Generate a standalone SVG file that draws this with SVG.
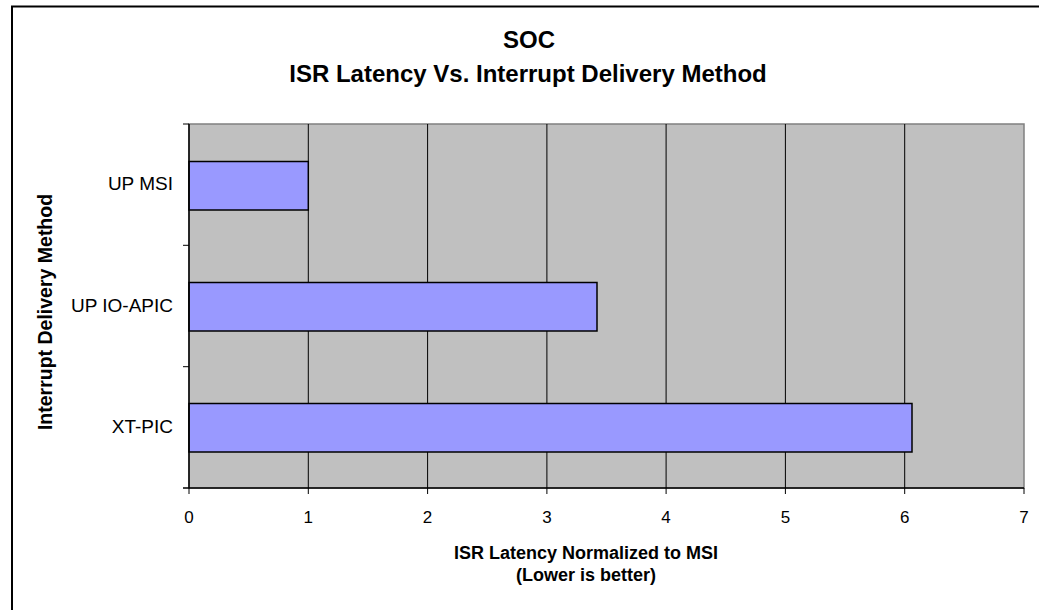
<svg xmlns="http://www.w3.org/2000/svg" width="1039" height="610" viewBox="0 0 1039 610">
<style>
text{font-family:"Liberation Sans",Arial,sans-serif;fill:#000}
.title{font-size:24px;font-weight:bold;text-anchor:middle}
.axt{font-size:18px;font-weight:bold;text-anchor:middle}
.yt{font-size:19.5px;font-weight:bold;text-anchor:middle}
.cat{font-size:19px;text-anchor:end}
.tick{font-size:17px;text-anchor:middle}
.grid{stroke:#000;stroke-width:1}
.bar{fill:#9999FF;stroke:#000;stroke-width:1.5}
.tk{stroke:#000;stroke-width:1}
</style>
<rect x="0" y="0" width="1039" height="610" fill="#fff"/>
<rect x="12" y="6.5" width="1040" height="620" fill="#fff" stroke="#000" stroke-width="2"/>
<g id="title">
<text class="title" x="529" y="48">SOC</text>
<text class="title" x="528" y="82">ISR Latency Vs. Interrupt Delivery Method</text>
</g>
<g id="plot">
<rect x="189" y="124" width="835" height="364" fill="#C0C0C0" stroke="#808080" stroke-width="1.5"/>
<line class="grid" x1="308.3" y1="124" x2="308.3" y2="488"/>
<line class="grid" x1="427.6" y1="124" x2="427.6" y2="488"/>
<line class="grid" x1="546.9" y1="124" x2="546.9" y2="488"/>
<line class="grid" x1="666.1" y1="124" x2="666.1" y2="488"/>
<line class="grid" x1="785.4" y1="124" x2="785.4" y2="488"/>
<line class="grid" x1="904.7" y1="124" x2="904.7" y2="488"/>
</g>
<g id="bar-up-msi"><rect class="bar" x="189" y="161.5" width="119.3" height="48.5"/></g>
<g id="bar-up-io-apic"><rect class="bar" x="189" y="282.5" width="408" height="48.5"/></g>
<g id="bar-xt-pic"><rect class="bar" x="189" y="403.5" width="723" height="48.5"/></g>
<g id="axes">
<line x1="189" y1="124" x2="189" y2="488" stroke="#000" stroke-width="1.5"/>
<line x1="183" y1="488" x2="1024" y2="488" stroke="#000" stroke-width="1.5"/>
<line class="tk" x1="183" y1="124" x2="189" y2="124"/>
<line class="tk" x1="183" y1="245.3" x2="189" y2="245.3" stroke="#555"/>
<line class="tk" x1="183" y1="366.7" x2="189" y2="366.7"/>
<line class="tk" x1="189" y1="488" x2="189" y2="494"/>
<line class="tk" x1="308.3" y1="488" x2="308.3" y2="494"/>
<line class="tk" x1="427.6" y1="488" x2="427.6" y2="494"/>
<line class="tk" x1="546.9" y1="488" x2="546.9" y2="494"/>
<line class="tk" x1="666.1" y1="488" x2="666.1" y2="494"/>
<line class="tk" x1="785.4" y1="488" x2="785.4" y2="494"/>
<line class="tk" x1="904.7" y1="488" x2="904.7" y2="494"/>
<line class="tk" x1="1024" y1="488" x2="1024" y2="494"/>
<text class="tick" x="189" y="523">0</text>
<text class="tick" x="308.3" y="523">1</text>
<text class="tick" x="427.6" y="523">2</text>
<text class="tick" x="546.9" y="523">3</text>
<text class="tick" x="666.1" y="523">4</text>
<text class="tick" x="785.4" y="523">5</text>
<text class="tick" x="904.7" y="523">6</text>
<text class="tick" x="1024" y="523">7</text>
<text class="cat" x="173" y="190">UP MSI</text>
<text class="cat" x="173" y="311.5">UP IO-APIC</text>
<text class="cat" x="173" y="433">XT-PIC</text>
<text class="axt" x="586" y="559">ISR Latency Normalized to MSI</text>
<text class="axt" x="586" y="581">(Lower is better)</text>
<text class="yt" transform="translate(52,312) rotate(-90)" x="0" y="0">Interrupt Delivery Method</text>
</g>
</svg>
